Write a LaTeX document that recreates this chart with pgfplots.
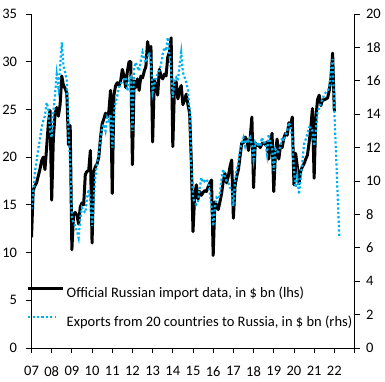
\documentclass[border=0pt]{standalone}
\usepackage{fontspec}
\setmainfont{Carlito}
\usepackage{pgfplots}
\usepackage{pgfplotstable}
\pgfplotsset{compat=1.18}
\definecolor{lblue}{RGB}{0,176,240}
\pgfplotsset{
  longleg/.style={legend image code/.code={\draw[##1] (0pt,4.6pt) -- (35pt,4.6pt);}},
  shortleg/.style={legend image code/.code={\draw[##1] (0pt,4.6pt) -- (28pt,4.6pt);}},
}

\pgfplotstableread[header=false,row sep=\\]{
11.6\\16.5\\17.0\\17.3\\18.0\\18.7\\19.6\\20.0\\18.7\\21.0\\23.5\\24.9\\
15.5\\22.0\\24.5\\25.2\\24.3\\25.5\\28.5\\27.5\\27.2\\26.7\\21.3\\23.3\\
10.3\\14.0\\14.2\\13.9\\13.0\\14.8\\15.2\\15.0\\18.2\\18.5\\18.6\\20.7\\
11.0\\18.5\\19.0\\19.3\\20.0\\22.0\\23.5\\24.0\\24.6\\24.2\\24.8\\27.0\\
16.2\\26.5\\27.5\\27.8\\27.5\\28.0\\29.2\\28.5\\27.3\\29.0\\30.0\\30.0\\
19.2\\28.0\\27.3\\28.2\\27.0\\28.5\\28.3\\29.0\\29.5\\32.1\\31.0\\31.6\\
21.6\\28.1\\27.5\\26.5\\29.2\\28.5\\28.2\\28.7\\28.5\\30.5\\31.0\\32.5\\
21.1\\27.4\\27.9\\26.1\\27.0\\27.5\\25.5\\26.0\\26.6\\25.5\\24.6\\19.5\\
12.2\\16.0\\17.1\\15.6\\16.4\\16.0\\16.3\\16.5\\16.4\\16.9\\17.3\\17.6\\
9.7\\15.3\\15.0\\14.5\\15.3\\16.2\\17.5\\18.3\\17.3\\18.0\\19.0\\19.7\\
13.6\\17.0\\18.0\\18.7\\20.1\\21.5\\21.5\\22.1\\21.8\\20.7\\22.0\\24.2\\
16.8\\21.5\\21.2\\21.3\\21.0\\21.4\\21.5\\21.3\\21.6\\19.8\\21.6\\22.5\\
16.4\\20.5\\21.9\\19.8\\21.2\\21.0\\22.0\\22.5\\22.3\\23.6\\23.3\\24.2\\
17.1\\20.4\\19.0\\17.2\\18.5\\19.0\\19.3\\19.8\\20.2\\21.5\\23.0\\25.1\\
17.8\\24.0\\26.0\\26.5\\25.4\\26.0\\26.0\\26.1\\26.2\\27.0\\28.3\\30.9\\
24.8\\
}\official

\pgfplotstableread[header=false,row sep=\\]{
8.3\\9.3\\10.5\\11.2\\11.9\\12.5\\13.2\\13.6\\13.9\\14.7\\14.3\\13.0\\
12.6\\14.1\\15.2\\16.4\\15.6\\16.8\\18.3\\16.9\\16.5\\16.0\\13.0\\10.8\\
7.8\\7.5\\7.3\\7.0\\6.6\\7.8\\8.4\\8.2\\8.1\\9.0\\9.5\\8.8\\
7.3\\9.0\\10.3\\11.1\\11.7\\12.5\\13.2\\13.4\\13.0\\13.8\\13.6\\14.0\\
12.0\\14.1\\14.7\\15.1\\15.6\\15.8\\16.0\\16.1\\16.2\\15.4\\16.0\\16.2\\
13.0\\16.8\\17.1\\16.8\\16.6\\17.2\\17.7\\17.3\\17.1\\17.4\\17.7\\17.1\\
15.3\\15.8\\16.2\\16.4\\16.6\\17.0\\17.6\\18.0\\17.8\\18.6\\17.6\\16.5\\
15.0\\16.0\\16.2\\16.0\\16.9\\17.7\\16.5\\16.2\\15.9\\15.4\\14.2\\11.0\\
9.0\\8.7\\8.6\\8.8\\9.6\\10.2\\9.9\\10.0\\10.1\\9.9\\9.3\\8.5\\
7.3\\8.4\\9.0\\8.9\\9.3\\10.2\\10.7\\10.2\\10.0\\9.9\\9.6\\9.5\\
8.5\\10.0\\10.7\\11.1\\11.9\\12.3\\12.6\\12.1\\12.5\\12.4\\12.6\\12.2\\
11.3\\12.3\\12.1\\12.2\\12.1\\12.6\\12.3\\12.3\\11.6\\12.8\\12.3\\12.0\\
10.6\\11.9\\11.7\\11.8\\12.1\\12.6\\12.4\\12.8\\13.0\\13.5\\13.3\\12.5\\
10.6\\9.6\\10.3\\9.2\\10.2\\11.1\\12.2\\12.5\\12.8\\13.2\\13.2\\13.0\\
12.1\\13.0\\14.1\\14.4\\14.7\\14.9\\15.2\\15.3\\15.4\\15.6\\16.6\\17.3\\
14.2\\11.7\\9.1\\6.6\\
}\exports

\begin{document}
\begin{tikzpicture}
\path[use as bounding box] (0,0) rectangle (385pt,382pt);
\begin{axis}[
  at={(31.5pt,34pt)}, anchor=south west, scale only axis,
  width=323pt, height=334pt,
  xmin=0, xmax=192, ymin=0, ymax=35,
  axis x line=bottom, axis y line=left,
  axis line style={-, black, line width=0.8pt},
  xtick={0,12,...,192},
  xticklabels={07,08,09,10,11,12,13,14,15,16,17,18,19,20,21,22,{}},
  ytick={0,5,...,35},
  tick align=outside, major tick length=5pt,
  tick style={black, line width=0.8pt},
  tick label style={font=\fontsize{14.5}{16}\selectfont, text=black},
  xticklabel style={yshift=-10pt},
  yticklabel style={xshift=-6pt},
  /pgf/number format/assume math mode=true,
  legend style={at={(axis description cs:-0.0148,0.1216)}, anchor=west,
    draw=none, fill=none, inner sep=0pt, outer sep=0pt,
    font=\fontsize{14.5}{16}\selectfont, row sep=17pt,
    nodes={inner sep=0pt}, column sep=2pt},
  legend cell align=left,
]
\addplot[black, line width=3pt, line join=round, longleg]
  table[x expr=\coordindex, y index=0] {\official};
\addlegendentry{Official Russian import data, in \$ bn (lhs)}
\addlegendimage{lblue, line width=2.2pt, dash pattern=on 2.2pt off 2.2pt, shortleg}
\addlegendentry{Exports from 20 countries to Russia, in \$ bn (rhs)}
\end{axis}
\begin{axis}[
  at={(31.5pt,34pt)}, anchor=south west, scale only axis,
  width=323pt, height=334pt,
  xmin=0, xmax=192, ymin=0, ymax=20,
  axis x line=none, axis y line=right,
  axis line style={-, black, line width=0.8pt},
  xtick=\empty,
  ytick={0,2,...,20},
  tick align=outside, major tick length=5pt,
  tick style={black, line width=0.8pt},
  tick label style={font=\fontsize{14.5}{16}\selectfont, text=black},
  yticklabel style={xshift=3pt},
  /pgf/number format/assume math mode=true,
]
\addplot[lblue, line width=2.2pt, dash pattern=on 2.2pt off 2.2pt]
  table[x expr=\coordindex, y index=0] {\exports};
\end{axis}
\end{tikzpicture}
\end{document}
